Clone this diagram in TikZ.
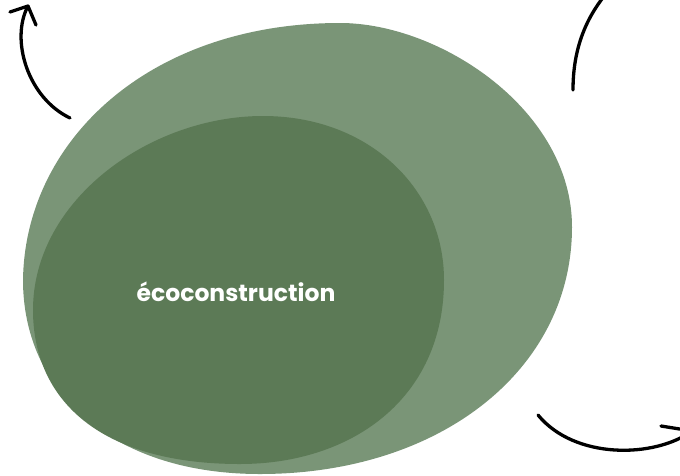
\documentclass[tikz,border=0pt]{standalone}
\usepackage{fontspec}
\setmainfont{Poppins}
\definecolor{outerg}{RGB}{122,149,119}
\definecolor{innerg}{RGB}{92,122,86}
\begin{document}
\begin{tikzpicture}[x=1pt,y=-1pt,
  arr/.style={line width=3.3pt, line cap=round, line join=round, draw=black},
  lbl/.style={text=white, font=\bfseries\fontsize{23.5}{26}\selectfont, inner sep=0pt}]
\useasboundingbox (0,0) rectangle (680,475);
\clip (0,0) rectangle (680,475);
% outer blob
\fill[outerg] (340,23) .. controls (440,23) and (572,110) .. (572,227)
  .. controls (572,370) and (440,474) .. (260,474)
  .. controls (110,474) and (23,390) .. (23,280)
  .. controls (25,140) and (150,23) .. (340,23) -- cycle;
% inner blob
\fill[innerg] (263,116) .. controls (370,116) and (444,190) .. (444,280)
  .. controls (444,400) and (350,464) .. (240,464)
  .. controls (100,464) and (33,400) .. (33,310)
  .. controls (33,200) and (150,116) .. (263,116) -- cycle;
\node[lbl, anchor=base] (eco) at (236,301) {écoconstruction};
% arrow top left
\coordinate (a1s) at (70,118);
\coordinate (a1t) at (28,6);
\coordinate (a1l) at (10,12);
\coordinate (a1r) at (36,25);
\draw[arr] (a1s) .. controls (28,98) and (10,40) .. (a1t);
\draw[arr] (a1l) -- (a1t) -- (a1r);
% arrow top right
\coordinate (a2s) at (573,90);
\coordinate (a2e) at (605,-5);
\draw[arr] (a2s) .. controls (573,50) and (585,20) .. (a2e);
% arrow bottom right
\coordinate (a3s) at (538,415);
\coordinate (a3t) at (692,431);
\coordinate (a3w) at (661,426);
\draw[arr] (a3s) .. controls (575,460) and (655,458) .. (a3t);
\draw[arr] (a3w) -- (a3t);
\end{tikzpicture}
\end{document}
